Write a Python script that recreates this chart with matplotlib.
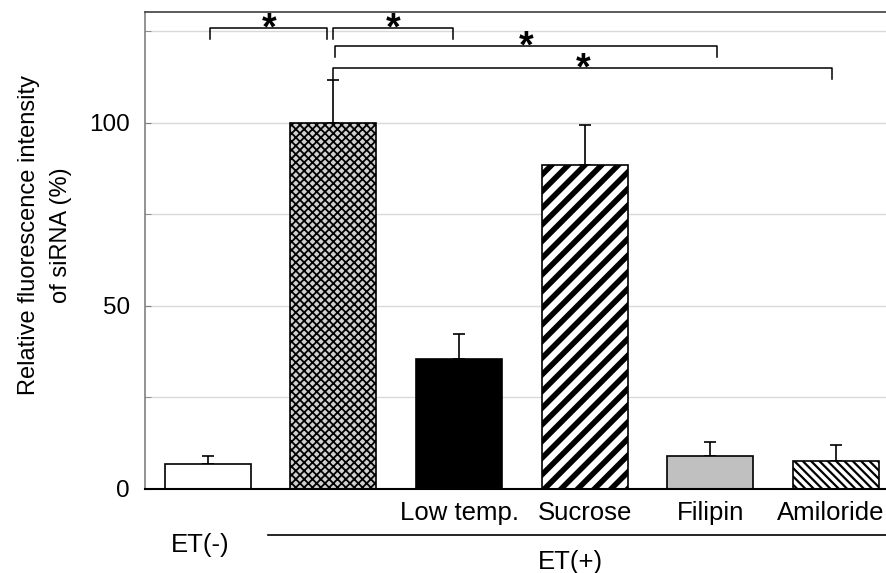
import matplotlib
matplotlib.use("Agg")
import matplotlib.pyplot as plt
import matplotlib.transforms as mtransforms

plt.rcParams['font.family'] = ['Liberation Sans', 'DejaVu Sans']

# data
groups = ['ET(-)', 'ET(+)', 'Low temp.', 'Sucrose', 'Filipin', 'Amiloride']
tick_names = ['', '', 'Low temp.', 'Sucrose', 'Filipin', 'Amiloride']
values = [6.8, 100.0, 35.3, 88.4, 8.9, 7.5]
errors = [2.0, 11.6, 6.9, 11.0, 3.7, 4.4]

# significance brackets: (left x, right x, height)
brackets = [(0.02, 0.95, 125.8), (1.0, 1.95, 125.8), (1.01, 4.05, 120.9), (1.0, 4.97, 114.9)]

faces = ['white', '#d0d0d0', 'black', 'white', '#c0c0c0', 'white']
hatches = [None, 'xxxx', None, '//', None, '\\\\\\\\']
hatch_colors = ['black', '#505050', 'black', 'black', 'black', 'black']
hatch_lws = [1.0, 1.3, 1.0, 4.0, 1.0, 1.6]

fig = plt.figure(figsize=(8.86, 5.73), dpi=100)
ax = fig.add_axes([145 / 886, 84.5 / 573, 741 / 886, 476.5 / 573])

x = list(range(len(values)))
for i in x:
    with plt.rc_context({'hatch.linewidth': hatch_lws[i], 'hatch.color': hatch_colors[i]}):
        b = ax.bar(i, values[i], width=0.684, color=faces[i], edgecolor='black',
                   linewidth=1.2, hatch=hatches[i], zorder=3)
    for p in b:
        if hasattr(p, 'set_hatch_linewidth'):
            p.set_hatch_linewidth(hatch_lws[i])
    ax.errorbar(i, values[i], yerr=[[0], [errors[i]]], fmt='none', ecolor='black',
                elinewidth=1.2, capsize=4, capthick=1.2, zorder=2)

# brackets with asterisks
for xa, xb, h in brackets:
    ax.plot([xa, xa, xb, xb], [h - 3, h, h, h - 3], color='black', lw=1.1,
            clip_on=False, zorder=4)
    ax.text((xa + xb) / 2, h - 0.4, '*', ha='center', va='center', fontsize=27,
            fontweight='bold', zorder=4)

ax.set_xlim(-0.5, 5.398)
ax.set_ylim(0, 130.2)
ax.set_yticks([0, 50, 100])
ax.set_yticks([25, 75, 125], minor=True)
ax.yaxis.grid(True, which='both', color='#d9d9d9', lw=1.0, zorder=0)
ax.set_axisbelow(True)
ax.tick_params(axis='y', which='both', direction='in', length=4, color='#808080',
               labelsize=17.5, pad=11)
ax.tick_params(axis='x', length=0)
ax.set_xticks([])

ax.spines['right'].set_visible(False)
ax.spines['left'].set_color('#808080')
ax.spines['left'].set_linewidth(1.2)
ax.spines['top'].set_color('#404040')
ax.spines['top'].set_linewidth(1.2)
ax.spines['bottom'].set_color('black')
ax.spines['bottom'].set_linewidth(1.5)
ax.spines['bottom'].set_zorder(5)

# category labels under the axis
trans = mtransforms.blended_transform_factory(ax.transData, ax.transAxes)
for i, name in enumerate(tick_names):
    if name:
        xpos = i if i < 5 else 4.96
        ax.text(xpos, -0.051, name, transform=trans, ha='center', va='center',
                fontsize=18.5, clip_on=False)
ax.text(-0.06, -0.118, groups[0], transform=trans, ha='center', va='center', fontsize=18.5)
ax.plot([0.48, 5.5], [-0.098, -0.098], transform=trans, color='black', lw=1.2,
        clip_on=False)
ax.text(2.89, -0.155, groups[1], transform=trans, ha='center', va='center', fontsize=18.5)

fig.text(45 / 886, 1 - 235 / 573, 'Relative fluorescence intensity\nof siRNA (%)',
         rotation=90, ha='center', va='center', fontsize=17, linespacing=1.55,
         multialignment='center')

fig.savefig('out.png', dpi=100)
